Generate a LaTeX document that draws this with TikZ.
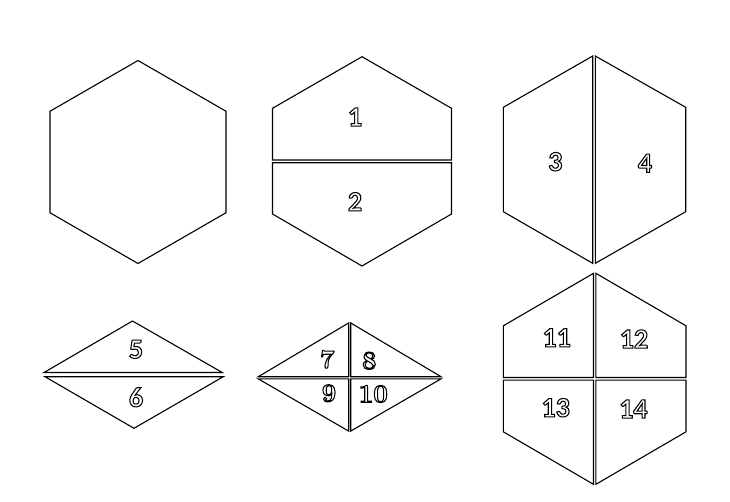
\documentclass[tikz,border=0pt]{standalone}
\usepackage{fontspec}
\newfontfamily\sansdig{Carlito}
\newcommand{\olt}[1]{\special{pdf:literal 1 Tr 1.05 w 0 G}#1\special{pdf:literal 0 Tr}}
\begin{document}
\begin{tikzpicture}[x=1pt,y=-1pt,
  piece/.style={draw=black, line width=1.1pt, line join=miter},
  lab/.style={inner sep=0pt, font=\fontsize{28}{28}\selectfont\sansdig\bfseries},
  labs/.style={inner sep=0pt, font=\fontsize{26}{26}\selectfont\rmfamily\bfseries}]
\useasboundingbox (0,0) rectangle (730,501);
\fill[white] (0,0) rectangle (730,501);
% plain hexagon
\draw[piece] (138,60.5) -- (226,111.25) -- (226,212.75) -- (138,263.5) -- (50,212.75) -- (50,111.25) -- cycle;
% hexagon 1/2
\draw[piece] (362,56.7) -- (451.5,108.3) -- (451.5,160) -- (272.5,160) -- (272.5,108.3) -- cycle;
\draw[piece] (272.5,162.7) -- (451.5,162.7) -- (451.5,214) -- (362,266) -- (272.5,214) -- cycle;
% hexagon 3/4
\draw[piece] (592.7,56) -- (592.7,263.3) -- (503.3,211.7) -- (503.3,107.3) -- cycle;
\draw[piece] (595.3,56) -- (685.7,107.3) -- (685.7,211.7) -- (595.3,263.3) -- cycle;
% diamond 5/6
\draw[piece] (44,372.5) -- (222.3,372.5) -- (132.5,321) -- cycle;
\draw[piece] (45,376.7) -- (223.3,376.7) -- (134,428.3) -- cycle;
% diamond 7-10, centre (349.7,377.8)
\begin{scope}[shift={(349.7,377.8)}]
\draw[piece] (-1,-1.1) -- (-1,-54.9) -- (-91.4,-1.1) -- cycle;
\draw[piece] (1,-1.1) -- (1,-54.9) -- (91.3,-1.1) -- cycle;
\draw[piece] (-1,1.1) -- (-1,53.3) -- (-91.4,1.1) -- cycle;
\draw[piece] (1,1.1) -- (1,53.3) -- (91.3,1.1) -- cycle;
\end{scope}
% hexagon 11-14, centre (594.7,378.8)
\begin{scope}[shift={(594.7,378.8)}]
\draw[piece] (-1.2,-1.3) -- (-1.2,-105.5) -- (-91.4,-53) -- (-91.4,-1.3) -- cycle;
\draw[piece] (1.2,-1.3) -- (1.2,-105.5) -- (91.3,-53) -- (91.3,-1.3) -- cycle;
\draw[piece] (-1.2,1.3) -- (-1.2,105.5) -- (-91.4,53) -- (-91.4,1.3) -- cycle;
\draw[piece] (1.2,1.3) -- (1.2,105.5) -- (91.3,53) -- (91.3,1.3) -- cycle;
\end{scope}
% labels
\node[lab] (l1) at (355,117) {\olt{1}};
\node[lab] (l2) at (355,201.7) {\olt{2}};
\node[lab] (l3) at (555.3,161.7) {\olt{3}};
\node[lab] (l4) at (645,163.3) {\olt{4}};
\node[lab] (l5) at (136,349.3) {\olt{5}};
\node[lab] (l6) at (136,397.3) {\olt{6}};
\node[labs] (l7) at (327.3,359.3) {\olt{7}};
\node[labs] (l8) at (369.3,360.7) {\olt{8}};
\node[labs] (l9) at (329,393.3) {\olt{9}};
\node[labs] (l10) at (373.3,394) {\olt{10}};
\node[lab] (l11) at (556.7,337.7) {\olt{11}};
\node[lab] (l12) at (634,339) {\olt{12}};
\node[lab] (l13) at (555.7,407.7) {\olt{13}};
\node[lab] (l14) at (633.3,409) {\olt{14}};
\end{tikzpicture}
\end{document}
